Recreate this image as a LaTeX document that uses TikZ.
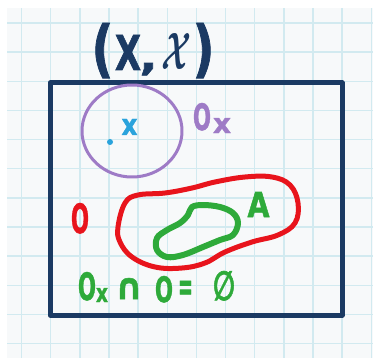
\documentclass[tikz,border=0pt]{standalone}
\usepackage{fontspec}
\setmainfont{DejaVu Sans}[BoldFeatures={FakeBold=1.5}]
\definecolor{navy}{HTML}{1B3A63}
\definecolor{lilac}{HTML}{9E7BC6}
\definecolor{skyblue}{HTML}{2AA3DC}
\definecolor{markred}{HTML}{E8141C}
\definecolor{markgreen}{HTML}{2EAA3A}
\definecolor{paper}{HTML}{F7F9FA}
\definecolor{gridc}{HTML}{D2EAF0}
\tikzset{
  gridline/.style={gridc, line width=1.4pt},
  lbl/.style={inner sep=0pt, outer sep=0pt, font=\bfseries},
  marker/.style={line width=#1, line cap=round, line join=round},
}
\newcommand{\gly}[3]{\resizebox{#1}{#2}{#3}}
\begin{document}
\begin{tikzpicture}[x=1pt,y=-1pt]
\useasboundingbox (0,0) rectangle (373,361);
\fill[paper] (7,8) rectangle (373,358);
\foreach \i in {0,...,12} \draw[gridline] ({21.5+29.15*\i},8) -- ({21.5+29.15*\i},358);
\foreach \j in {0,...,11} \draw[gridline] (7,{23+29.15*\j}) -- (373,{23+29.15*\j});
% space rectangle
\draw[navy, marker=5pt] (50,83) rectangle (342,315);
% title
\node[lbl, navy, anchor=base west] (title) at (91.5,70)
  {\gly{22pt}{47pt}{(}\hspace{1.5pt}\gly{26pt}{35pt}{X}\hspace{-1.5pt}\gly{18pt}{7pt}{,}\hspace{3.5pt}\gly{30pt}{36pt}{\boldmath$\mathcal{X}$}\hspace{1.5pt}\gly{22pt}{47pt}{)}};
% open set O_x
\draw[lilac, marker=3pt] (132,131) ellipse [x radius=50, y radius=46];
\node[lbl, lilac, anchor=base west] (ox) at (193,130)
  {\gly{18pt}{27pt}{O}\hspace{2pt}\raisebox{-3pt}{\gly{18pt}{15pt}{x}}};
% point x
\fill[skyblue] (110,142) circle (3);
\node[lbl, skyblue, anchor=base] (px) at (129.5,135) {\gly{16pt}{16pt}{x}};
% open set O and A
\node[lbl, markred, anchor=base] (o) at (80,233) {\gly{18pt}{30pt}{O}};
\draw[markred, marker=5pt] plot[smooth cycle, tension=0.65] coordinates {(118,227) (125,203) (138,195) (165,193) (192,188) (215,182) (245,177) (272,177) (290,185) (298,203) (295,223) (278,235) (252,242) (225,252) (205,263) (182,268) (155,267) (132,257) (120,242)};
\draw[markgreen, marker=6pt] plot[smooth cycle, tension=0.6] coordinates {(192,207) (203,205) (220,207) (233,213) (238,223) (233,235) (220,240) (203,247) (183,255) (167,257) (157,250) (157,238) (167,230) (180,223) (188,215)};
\node[lbl, markgreen, anchor=base] (a) at (258.5,217) {\gly{22pt}{25pt}{A}};
% equation
\node[lbl, markgreen, anchor=base west] (eq) at (78,300)
  {\gly{18pt}{28pt}{O}\raisebox{-2pt}{\gly{12pt}{14pt}{x}}\hspace{7pt}\raisebox{1pt}{\gly{28pt}{21pt}{∩}}\hspace{12pt}\raisebox{-2pt}{\gly{18pt}{26pt}{O}}\hspace{5pt}\gly{15pt}{19pt}{=}\hspace{20pt}\gly{22pt}{29pt}{∅}};
\end{tikzpicture}
\end{document}
